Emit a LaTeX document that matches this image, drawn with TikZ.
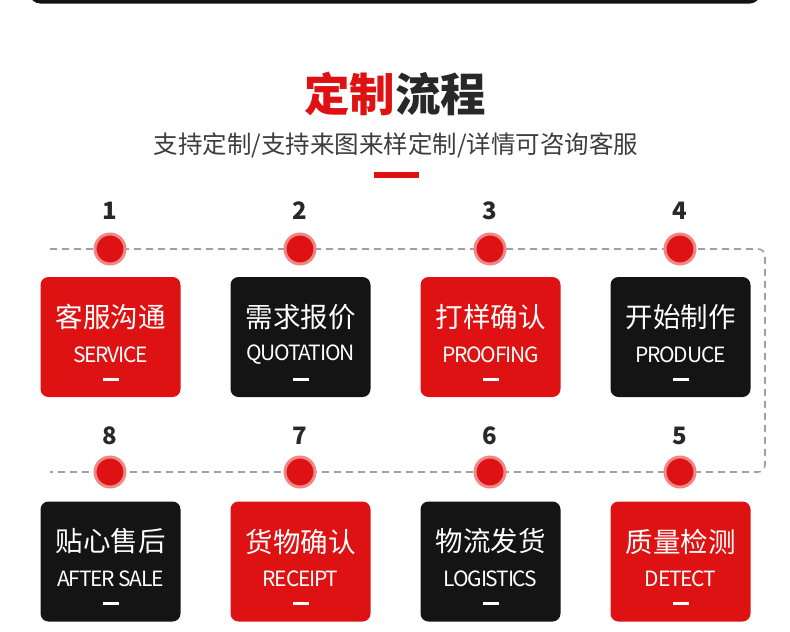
\documentclass[tikz,border=0pt]{standalone}
\usepackage{fontspec}
\setmainfont{Noto Sans CJK SC}
\newfontfamily\cjk{Noto Sans CJK SC}
\newfontfamily\cjktight[LetterSpace=-6]{Noto Sans CJK SC}
\definecolor{mred}{RGB}{222,18,18}
\definecolor{mpink}{RGB}{240,135,135}
\definecolor{mblack}{RGB}{20,20,20}
\definecolor{mgray}{RGB}{160,160,160}
\definecolor{numgray}{RGB}{40,40,40}
\begin{document}
\begin{tikzpicture}[x=1pt,y=-1pt,
  box/.style={rounded corners=8pt, minimum width=140pt, minimum height=120pt, inner sep=0pt},
  redbox/.style={box, fill=mred},
  blackbox/.style={box, fill=mblack},
  cntext/.style={text=white, font=\cjk\fontsize{27.5}{30}\selectfont, inner sep=0pt},
  entext/.style={text=white, font=\cjktight\fontsize{21}{23}\selectfont, inner sep=0pt},
  minibar/.style={fill=white, minimum width=16pt, minimum height=3pt, inner sep=0pt},
  reddot/.style={circle, fill=mred, draw=mpink, line width=3pt, minimum size=30pt, inner sep=0pt},
  numtext/.style={text=numgray, font=\cjk\bfseries\fontsize{24}{26}\selectfont, inner sep=0pt},
  track/.style={draw=mgray, line width=1.6pt, dash pattern=on 7pt off 5pt, rounded corners=7pt}
]
\useasboundingbox (0,0) rectangle (790,632);
% top bar
\fill[mblack, rounded corners=10pt] (30,-20) rectangle (760,3.5);
% title
\node[font=\cjk\bfseries\fontsize{45.5}{48}\selectfont, inner sep=0pt] (title) at (395,94)
  {\textcolor{mred}{定制}\textcolor{numgray}{流程}};
\node[font=\cjk\fontsize{24.5}{27}\selectfont, text=numgray!90, inner sep=0pt] (sub) at (396,145)
  {支持定制/支持来图来样定制/详情可咨询客服};
\node[fill=mred, minimum width=45pt, minimum height=5.5pt, inner sep=0pt] (bar) at (396,175) {};
% track
\coordinate (t1) at (50,249);
\coordinate (t2) at (765,249);
\coordinate (t3) at (765,472);
\coordinate (t4) at (50,472);
\draw[track] (t1) -- (t2) -- (t3) -- (t4);
% boxes
\foreach \i/\x/\y/\st/\c/\e/\n/\ny/\cy in {
  1/110.5/337/redbox/客服沟通/SERVICE/1/211/249,
  2/300.5/337/blackbox/需求报价/QUOTATION/2/211/249,
  3/490.5/337/redbox/打样确认/PROOFING/3/211/249,
  4/680.5/337/blackbox/开始制作/PRODUCE/4/211/249,
  5/680.5/561.5/redbox/质量检测/DETECT/5/436/472,
  6/490.5/561.5/blackbox/物流发货/LOGISTICS/6/436/472,
  7/300.5/561.5/redbox/货物确认/RECEIPT/7/436/472,
  8/110.5/561.5/blackbox/贴心售后/AFTER SALE/8/436/472}{
  \node[\st] (b\i) at (\x,\y) {};
  \node[cntext] (c\i) at ([yshift=20pt]b\i.center) {\c};
  \node[entext] (e\i) at ([yshift=-17.5pt]b\i.center) {\e};
  \node[minibar] (m\i) at ([yshift=-42pt]b\i.center) {};
  \node[reddot] (d\i) at (\x-0.5,\cy) {};
  \node[numtext] (n\i) at (\x-0.5,\ny) {\n};
}
\end{tikzpicture}
\end{document}
